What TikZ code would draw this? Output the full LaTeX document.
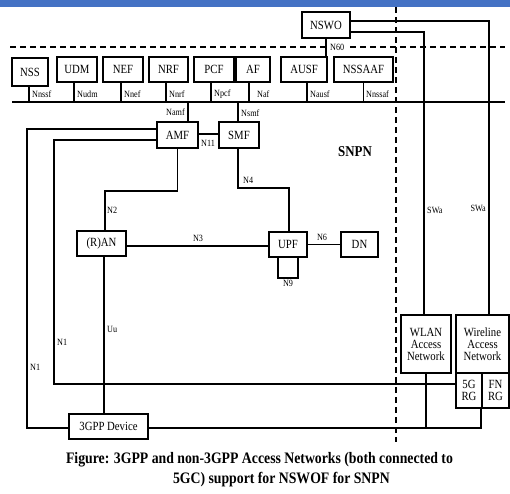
\documentclass[tikz,border=0pt]{standalone}
\usepackage{fontspec}
\setmainfont{Liberation Serif}[FakeStretch=0.86]
\usetikzlibrary{arrows.meta,positioning,calc}
\definecolor{barblue}{RGB}{68,114,196}
\begin{document}
\begin{tikzpicture}[x=1pt,y=-1pt,line width=1.4pt]
\tikzstyle{nf}=[rectangle,draw,line width=1.7pt,inner sep=1pt,font=\fontsize{12.5}{14}\selectfont,align=center]
\tikzstyle{lbl}=[inner sep=0.5pt,font=\fontsize{9.5}{10}\selectfont]
\tikzstyle{sep}=[line width=1.5pt,dash pattern=on 6pt off 4pt]
\useasboundingbox (0,0) rectangle (510,493);
\fill[barblue] (0,0) rectangle (510,6.5);
\coordinate (busL) at (12,102); \coordinate (busR) at (505,102);
\coordinate (dashL) at (10,47); \coordinate (dashR) at (505,47);
\coordinate (vtop) at (396,7); \coordinate (vbot) at (396,442);
\draw[sep] (dashL) -- (dashR);
\draw[sep] (vtop) -- (vbot);
\draw (busL) -- (busR);
\node[nf,minimum width=36,minimum height=28] (nss) at (30,72) {NSS};
\node[nf,minimum width=40,minimum height=25] (udm) at (77,69.5) {UDM};
\node[nf,minimum width=40,minimum height=25] (nef) at (123,69.5) {NEF};
\node[nf,minimum width=39,minimum height=25] (nrf) at (168.5,69.5) {NRF};
\node[nf,minimum width=40,minimum height=25] (pcf) at (214,69.5) {PCF};
\node[nf,minimum width=34,minimum height=25] (af) at (253,69.5) {AF};
\node[nf,minimum width=46,minimum height=25] (ausf) at (304,69.5) {AUSF};
\node[nf,minimum width=59,minimum height=25] (nssaaf) at (363.5,69.5) {NSSAAF};
\node[nf,minimum width=48,minimum height=26,fill=white] (nswo) at (326,25) {NSWO};
\node[nf,minimum width=41,minimum height=26] (amf) at (177.5,135) {AMF};
\node[nf,minimum width=40,minimum height=26] (smf) at (239,135) {SMF};
\node[nf,minimum width=49,minimum height=25] (ran) at (101.5,243.5) {(R)AN};
\node[nf,minimum width=38,minimum height=25] (upf) at (288,244.5) {UPF};
\node[nf,minimum width=37,minimum height=25] (dn) at (359.5,244.5) {DN};
\node[nf,minimum width=50,minimum height=58] (wlan) at (426,344) {WLAN\\[-2pt]Access\\[-2pt]Network};
\node[nf,minimum width=53,minimum height=58] (wire) at (482.5,344) {Wireline\\[-2pt]Access\\[-2pt]Network};
\node[nf,minimum width=26,minimum height=35] (rg5) at (469,390.5) {5G\\[-2pt]RG};
\node[nf,minimum width=27,minimum height=35] (rgfn) at (495.5,390.5) {FN\\[-2pt]RG};
\node[nf,minimum width=79,minimum height=25] (dev) at (108.5,426.5) {3GPP Device};
\node[font=\bfseries\fontsize{15}{17}\selectfont] (snpn) at (355,152) {SNPN};
\draw ([xshift=-1]nss.south) -- ([xshift=-1]nss.south |- busL);
\draw ([xshift=-3]udm.south) -- ([xshift=-3]udm.south |- busL);
\draw ([xshift=-2]nef.south) -- ([xshift=-2]nef.south |- busL);
\draw ([xshift=-2.5]nrf.south) -- ([xshift=-2.5]nrf.south |- busL);
\draw ([xshift=-3]pcf.south) -- ([xshift=-3]pcf.south |- busL);
\draw ([xshift=-4]af.south) -- ([xshift=-4]af.south |- busL);
\draw ([xshift=3]ausf.south) -- ([xshift=3]ausf.south |- busL);
\draw (nssaaf.south) -- (nssaaf.south |- busL);
\node[lbl,anchor=west] (lnss) at (31,94) {Nnssf};
\node[lbl,anchor=west] (ludm) at (76,94) {Nudm};
\node[lbl,anchor=west] (lnef) at (123,94) {Nnef};
\node[lbl,anchor=west] (lnrf) at (168,94) {Nnrf};
\node[lbl,anchor=west] (lpcf) at (213,94) {Npcf};
\node[lbl,anchor=west] (laf) at (256,94) {Naf};
\node[lbl,anchor=west] (lausf) at (309,94) {Nausf};
\node[lbl,anchor=west] (lnssaaf) at (365,94) {Nnssaf};
\draw (nswo.south) -- (nswo.south |- ausf.north);
\node[lbl,anchor=west,fill=white,inner sep=1.5pt] (ln60) at (328,47) {N60};
\draw ([yshift=4]nswo.east) -| ([xshift=6.5]wire.north);
\draw ([yshift=-7]nswo.east) -| ([xshift=-2]wlan.north);
\node[lbl,anchor=west] (lswa1) at (426,210) {SWa};
\node[lbl,anchor=east] (lswa2) at (487,208) {SWa};
\draw ([xshift=10.5]amf.north) -- ([xshift=10.5]amf.north |- busL);
\node[lbl,anchor=east] (lnamf) at (186,112) {Namf};
\draw ([xshift=-1]smf.north) -- ([xshift=-1]smf.north |- busL);
\node[lbl,anchor=west] (lnsmf) at (240,113) {Nsmf};
\draw ([yshift=1]amf.east) -- ([yshift=1]smf.west);
\node[lbl] (ln11) at (208,143.5) {N11};
\coordinate (n1o) at (27,428);
\draw ([yshift=6]amf.west) -| (n1o) -- (n1o -| dev.west);
\node[lbl,anchor=west] (ln1o) at (29,367) {N1};
\coordinate (n1i) at (54,384);
\draw ([yshift=-5]amf.west) -| (n1i) -- (n1i -| rg5.west);
\node[lbl,anchor=west] (ln1i) at (56,342) {N1};
\coordinate (n2c) at (105,191);
\draw (amf.south) |- (n2c) -- (n2c |- ran.north);
\node[lbl,anchor=west] (ln2) at (106,210) {N2};
\coordinate (n4c) at (289,188);
\draw ([xshift=-1]smf.south) |- (n4c) -- (n4c |- upf.north);
\node[lbl,anchor=west] (ln4) at (242,180) {N4};
\draw ([yshift=-2.5]ran.east) -- ([yshift=-2.5]ran.east -| upf.west);
\node[lbl] (ln3) at (198,238) {N3};
\draw (upf) -- (dn);
\node[lbl] (ln6) at (322,237) {N6};
\draw ([xshift=-10]upf.south) -- ++(0,20) -| ([xshift=10]upf.south);
\node[lbl] (ln9) at (288,283) {N9};
\draw ([xshift=2.5]ran.south) -- ([xshift=2.5]ran.south |- dev.north);
\node[lbl,anchor=west] (luu) at (106,329) {Uu};
\draw ([yshift=-1.5]dev.east) -- ([yshift=-1.5]dev.east -| rgfn.south west) -- (rgfn.south west);
\draw (wlan.south) -- (wlan.south |- n1o);
\node[font=\bfseries\fontsize{16}{18}\selectfont,anchor=west] (cap1) at (62,460) {Figure: 3GPP and non-3GPP Access Networks (both connected to};
\node[font=\bfseries\fontsize{16}{18}\selectfont,anchor=west] (cap2) at (169,480) {5GC) support for NSWOF for SNPN};
\end{tikzpicture}
\end{document}
